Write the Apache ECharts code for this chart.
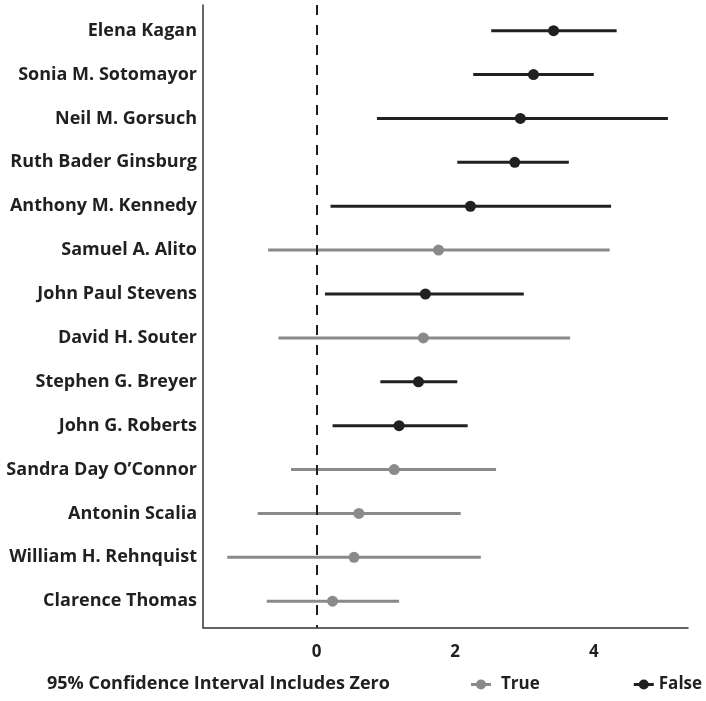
<!DOCTYPE html>
<html>
<head>
<meta charset="utf-8">
<script src="https://cdn.jsdelivr.net/npm/echarts@6/dist/echarts.min.js"></script>
<style>
  html, body { margin: 0; padding: 0; background: #ffffff; }
  #chart { width: 706px; height: 701px; }
</style>
</head>
<body>
<div id="chart"></div>
<script>
// Justices, listed top to bottom
var justices = [
  'Elena Kagan', 'Sonia M. Sotomayor', 'Neil M. Gorsuch', 'Ruth Bader Ginsburg',
  'Anthony M. Kennedy', 'Samuel A. Alito', 'John Paul Stevens', 'David H. Souter',
  'Stephen G. Breyer', 'John G. Roberts', "Sandra Day O\u2019Connor", 'Antonin Scalia',
  'William H. Rehnquist', 'Clarence Thomas'
];
// Point estimates and 95% interval bounds
var estimates = [3.42, 3.13, 2.94, 2.86, 2.22, 1.76, 1.57, 1.54, 1.47, 1.19, 1.12, 0.61, 0.54, 0.23];
var lower     = [2.52, 2.26, 0.87, 2.03, 0.20, -0.70, 0.12, -0.55, 0.92, 0.23, -0.37, -0.85, -1.29, -0.72];
var upper     = [4.33, 4.00, 5.07, 3.64, 4.25, 4.23, 2.99, 3.66, 2.03, 2.18, 2.59, 2.08, 2.37, 1.19];
var xTicks = [0, 2, 4];

var DARK = '#231f20';
var GREY = '#8a8a8a';
var FONT = 'Open Sans';

function includesZero(i) { return lower[i] <= 0 && upper[i] >= 0; }

var intervalData = [], trueData = [], falseData = [];
justices.forEach(function (name, i) {
  intervalData.push([lower[i], upper[i], i]);
  if (includesZero(i)) trueData.push([estimates[i], i]);
  else falseData.push([estimates[i], i]);
});

// legend glyph: short horizontal bar with a dot in the middle
var legendIcon = 'path://M0,3.5L5.6,3.5L5.6,6.5L0,6.5Z M14.4,3.5L20,3.5L20,6.5L14.4,6.5Z ' +
  'M15,5A5,5 0 1 1 5,5A5,5 0 1 1 15,5Z';

var chart = echarts.init(document.getElementById('chart'));
chart.setOption({
  animation: false,
  backgroundColor: '#ffffff',
  grid: { left: 203, right: 18, top: 5, bottom: 73.5 },
  title: {
    text: '95% Confidence Interval Includes Zero',
    left: 47, top: 675, padding: 0,
    textStyle: { fontFamily: FONT, fontWeight: 'bold', fontSize: 18, color: DARK }
  },
  legend: {
    left: 471, top: 676, padding: 0, width: 300,
    itemWidth: 20, itemHeight: 10, itemGap: 94,
    icon: legendIcon,
    data: [
      { name: 'True', itemStyle: { color: GREY }, textStyle: { padding: [0, 0, 0, 5] } },
      { name: 'False', itemStyle: { color: DARK }, textStyle: { padding: 0 } }
    ],
    textStyle: { fontFamily: FONT, fontWeight: 'bold', fontSize: 17, color: DARK }
  },
  xAxis: {
    type: 'value',
    min: -1.64, max: 5.36,
    axisLine: { show: true, onZero: false, lineStyle: { color: '#333', width: 1.5 } },
    axisTick: { show: false },
    splitLine: { show: false },
    axisLabel: {
      customValues: xTicks,
      margin: 16,
      fontFamily: FONT, fontWeight: 'bold', fontSize: 17, color: DARK
    }
  },
  yAxis: {
    type: 'value',
    inverse: true,
    min: -0.586, max: 13.6,
    axisLine: { show: true, onZero: false, lineStyle: { color: '#333', width: 1.5 } },
    axisTick: { show: false },
    splitLine: { show: false },
    axisLabel: {
      customValues: justices.map(function (n, i) { return i; }),
      formatter: function (v) { return justices[v]; },
      margin: 6,
      fontFamily: FONT, fontWeight: 'bold', fontSize: 18, color: DARK
    }
  },
  series: [
    {
      // reference line at zero
      type: 'line',
      data: [],
      silent: true,
      markLine: {
        symbol: 'none',
        label: { show: false },
        lineStyle: { color: DARK, type: [10, 10], width: 2 },
        data: [{ xAxis: 0 }]
      }
    },
    {
      type: 'custom',
      name: 'interval',
      silent: true,
      data: intervalData,
      encode: { x: [0, 1], y: 2 },
      renderItem: function (params, api) {
        var i = api.value(2);
        var a = api.coord([api.value(0), i]);
        var b = api.coord([api.value(1), i]);
        return {
          type: 'line',
          shape: { x1: a[0], y1: a[1], x2: b[0], y2: b[1] },
          style: { stroke: includesZero(i) ? GREY : DARK, lineWidth: 3 }
        };
      },
      z: 2
    },
    {
      type: 'scatter', name: 'True', data: trueData,
      symbol: 'circle', symbolSize: 11,
      itemStyle: { color: GREY, opacity: 1 }, z: 3
    },
    {
      type: 'scatter', name: 'False', data: falseData,
      symbol: 'circle', symbolSize: 11,
      itemStyle: { color: DARK, opacity: 1 }, z: 3
    }
  ]
});
</script>
</body>
</html>
